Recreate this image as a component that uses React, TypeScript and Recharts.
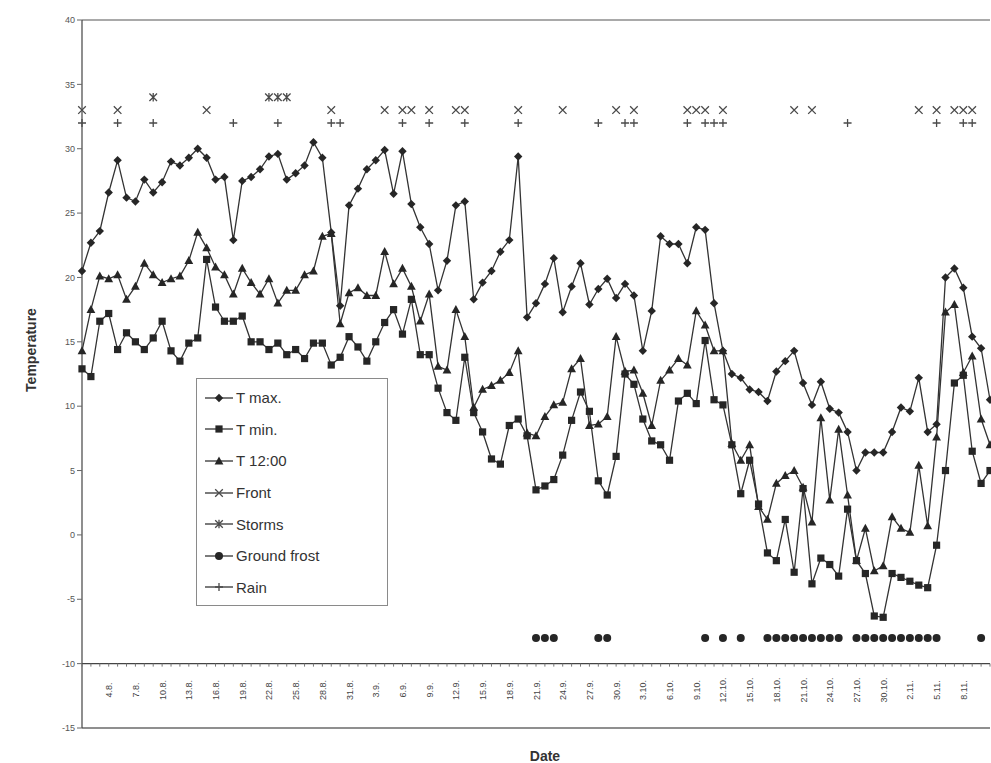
import React from "react";
import { LineChart, Line, XAxis, YAxis, ReferenceLine, Legend } from "recharts";

const dates = [
  "1.8.", "2.8.", "3.8.", "4.8.", "5.8.", "6.8.", "7.8.", "8.8.", "9.8.", "10.8.",
  "11.8.", "12.8.", "13.8.", "14.8.", "15.8.", "16.8.", "17.8.", "18.8.", "19.8.", "20.8.",
  "21.8.", "22.8.", "23.8.", "24.8.", "25.8.", "26.8.", "27.8.", "28.8.", "29.8.", "30.8.",
  "31.8.", "1.9.", "2.9.", "3.9.", "4.9.", "5.9.", "6.9.", "7.9.", "8.9.", "9.9.",
  "10.9.", "11.9.", "12.9.", "13.9.", "14.9.", "15.9.", "16.9.", "17.9.", "18.9.", "19.9.",
  "20.9.", "21.9.", "22.9.", "23.9.", "24.9.", "25.9.", "26.9.", "27.9.", "28.9.", "29.9.",
  "30.9.", "1.10.", "2.10.", "3.10.", "4.10.", "5.10.", "6.10.", "7.10.", "8.10.", "9.10.",
  "10.10.", "11.10.", "12.10.", "13.10.", "14.10.", "15.10.", "16.10.", "17.10.", "18.10.", "19.10.",
  "20.10.", "21.10.", "22.10.", "23.10.", "24.10.", "25.10.", "26.10.", "27.10.", "28.10.", "29.10.",
  "30.10.", "31.10.", "1.11.", "2.11.", "3.11.", "4.11.", "5.11.", "6.11.", "7.11.", "8.11.",
  "9.11.", "10.11.", "11.11.",
];

const tMax = [
  20.5, 22.7, 23.6, 26.6, 29.1, 26.2, 25.9, 27.6, 26.6, 27.4,
  29.0, 28.7, 29.3, 30.0, 29.3, 27.6, 27.8, 22.9, 27.5, 27.8,
  28.4, 29.4, 29.6, 27.6, 28.1, 28.7, 30.5, 29.3, 23.5, 17.8,
  25.6, 26.9, 28.4, 29.1, 29.9, 26.5, 29.8, 25.7, 23.9, 22.6,
  19.0, 21.3, 25.6, 25.9, 18.3, 19.6, 20.5, 22.0, 22.9, 29.4,
  16.9, 18.0, 19.5, 21.5, 17.3, 19.3, 21.1, 17.9, 19.1, 19.9,
  18.4, 19.5, 18.6, 14.3, 17.4, 23.2, 22.6, 22.6, 21.1, 23.9,
  23.7, 18.0, 14.3, 12.5, 12.2, 11.3, 11.1, 10.4, 12.7, 13.5,
  14.3, 11.8, 10.1, 11.9, 9.8, 9.5, 8.0, 5.0, 6.4, 6.4,
  6.4, 8.0, 9.9, 9.6, 12.2, 8.0, 8.6, 20.0, 20.7, 19.2,
  15.4, 14.5, 10.5,
];

const tMin = [
  12.9, 12.3, 16.6, 17.2, 14.4, 15.7, 15.0, 14.4, 15.3, 16.6,
  14.3, 13.5, 14.9, 15.3, 21.4, 17.7, 16.6, 16.6, 17.0, 15.0,
  15.0, 14.4, 14.9, 14.0, 14.4, 13.7, 14.9, 14.9, 13.2, 13.8,
  15.4, 14.6, 13.5, 15.0, 16.5, 17.5, 15.6, 18.3, 14.0, 14.0,
  11.4, 9.5, 8.9, 13.8, 9.5, 8.0, 5.9, 5.5, 8.5, 9.0,
  7.7, 3.5, 3.8, 4.3, 6.2, 8.9, 11.1, 9.6, 4.2, 3.1,
  6.1, 12.5, 11.7, 9.0, 7.3, 7.0, 5.8, 10.4, 11.0, 10.2,
  15.1, 10.5, 10.1, 7.0, 3.2, 5.8, 2.4, -1.4, -2.0, 1.2,
  -2.9, 3.6, -3.8, -1.8, -2.3, -3.2, 2.0, -2.0, -3.0, -6.3,
  -6.4, -3.0, -3.3, -3.6, -3.9, -4.1, -0.8, 5.0, 11.8, 12.4,
  6.5, 4.0, 5.0,
];

const t1200 = [
  14.3, 17.5, 20.1, 19.9, 20.2, 18.3, 19.3, 21.1, 20.2, 19.6,
  19.9, 20.1, 21.3, 23.5, 22.3, 20.8, 20.2, 18.7, 20.7, 19.6,
  18.7, 19.9, 18.0, 19.0, 19.0, 20.2, 20.5, 23.2, 23.4, 16.4,
  18.8, 19.2, 18.6, 18.6, 22.0, 19.5, 20.7, 19.3, 16.6, 18.7,
  13.1, 12.8, 17.5, 15.4, 9.9, 11.3, 11.6, 12.0, 12.6, 14.3,
  7.9, 7.7, 9.2, 10.1, 10.3, 12.9, 13.7, 8.5, 8.6, 9.2,
  15.4, 12.7, 12.8, 11.0, 8.5, 12.0, 12.8, 13.7, 13.2, 17.4,
  16.3, 14.3, 14.3, 7.1, 5.8, 7.0, 2.2, 1.2, 4.0, 4.6,
  5.0, 3.7, 1.0, 9.1, 2.7, 8.2, 3.1, -2.0, 0.5, -2.8,
  -2.4, 1.4, 0.5, 0.2, 5.4, 0.7, 7.6, 17.3, 17.9, 12.6,
  13.9, 9.0, 7.0,
];

// event days, drawn as markers at fixed heights
const frontDates = [
  "1.8.", "5.8.", "15.8.", "29.8.", "4.9.", "6.9.", "7.9.", "9.9.", "12.9.", "13.9.",
  "19.9.", "24.9.", "30.9.", "2.10.", "8.10.", "9.10.", "10.10.", "12.10.", "20.10.", "22.10.",
  "3.11.", "5.11.", "7.11.", "8.11.", "9.11.",
];
const stormDates = ["9.8.", "22.8.", "23.8.", "24.8."];
const rainDates = [
  "1.8.", "5.8.", "9.8.", "18.8.", "23.8.", "29.8.", "30.8.", "6.9.", "9.9.", "13.9.",
  "19.9.", "28.9.", "1.10.", "2.10.", "8.10.", "10.10.", "11.10.", "12.10.", "26.10.", "5.11.",
  "8.11.", "9.11.",
];
const frostDates = [
  "21.9.", "22.9.", "23.9.", "28.9.", "29.9.", "10.10.", "12.10.", "14.10.",
  "17.10.", "18.10.", "19.10.", "20.10.", "21.10.", "22.10.", "23.10.", "24.10.", "25.10.",
  "27.10.", "28.10.", "29.10.", "30.10.", "31.10.", "1.11.", "2.11.", "3.11.", "4.11.", "5.11.",
  "10.11.",
];

const FRONT_LEVEL = 33;
const STORM_LEVEL = 34;
const RAIN_LEVEL = 32;
const FROST_LEVEL = -8;

const labelDates = [
  "4.8.", "7.8.", "10.8.", "13.8.", "16.8.", "19.8.", "22.8.", "25.8.", "28.8.", "31.8.",
  "3.9.", "6.9.", "9.9.", "12.9.", "15.9.", "18.9.", "21.9.", "24.9.", "27.9.", "30.9.",
  "3.10.", "6.10.", "9.10.", "12.10.", "15.10.", "18.10.", "21.10.", "24.10.", "27.10.", "30.10.",
  "2.11.", "5.11.", "8.11.",
];
const yTicks = [-15, -10, -5, 0, 5, 10, 15, 20, 25, 30, 35, 40];

const FONT = "'Liberation Sans', Arial, sans-serif";
const INK = "#262626";
const PLOT_TOP = 20;
const PLOT_BOTTOM = 728;

function valueToY(v: number) {
  return PLOT_BOTTOM - ((v + 15) / 55) * (PLOT_BOTTOM - PLOT_TOP);
}

const chartData = dates.map((d, i) => ({
  date: d,
  tmax: tMax[i],
  tmin: tMin[i],
  t12: t1200[i],
  front: frontDates.includes(d) ? FRONT_LEVEL : null,
  storm: stormDates.includes(d) ? STORM_LEVEL : null,
  rain: rainDates.includes(d) ? RAIN_LEVEL : null,
  frost: frostDates.includes(d) ? FROST_LEVEL : null,
}));

type Shape = "diamond" | "square" | "triangle" | "cross" | "star" | "circle" | "plus";

function Marker({ shape, cx, cy }: { shape: Shape; cx: number; cy: number }) {
  switch (shape) {
    case "diamond":
      return <path d={`M${cx},${cy - 4.2}L${cx + 4.2},${cy}L${cx},${cy + 4.2}L${cx - 4.2},${cy}Z`} fill={INK} />;
    case "square":
      return <rect x={cx - 3.6} y={cy - 3.6} width={7.2} height={7.2} fill={INK} />;
    case "triangle":
      return <path d={`M${cx},${cy - 4.6}L${cx + 4.4},${cy + 3.4}L${cx - 4.4},${cy + 3.4}Z`} fill={INK} />;
    case "cross":
      return (
        <path d={`M${cx - 3.8},${cy - 3.8}L${cx + 3.8},${cy + 3.8}M${cx + 3.8},${cy - 3.8}L${cx - 3.8},${cy + 3.8}`}
          stroke="#4a4a4a" strokeWidth={1.3} fill="none" />
      );
    case "star":
      return (
        <path d={`M${cx - 3.8},${cy - 3.8}L${cx + 3.8},${cy + 3.8}M${cx + 3.8},${cy - 3.8}L${cx - 3.8},${cy + 3.8}M${cx},${cy - 4.2}L${cx},${cy + 4.2}`}
          stroke="#4a4a4a" strokeWidth={1.3} fill="none" />
      );
    case "plus":
      return (
        <path d={`M${cx - 4},${cy}L${cx + 4},${cy}M${cx},${cy - 4}L${cx},${cy + 4}`}
          stroke="#4a4a4a" strokeWidth={1.3} fill="none" />
      );
    case "circle":
      return <circle cx={cx} cy={cy} r={4} fill={INK} />;
  }
  return null;
}

function makeDot(shape: Shape) {
  return (props: any) => {
    const { cx, cy, value, index } = props;
    if (cx == null || cy == null || value == null) return <g key={index} />;
    return <Marker key={index} shape={shape} cx={cx} cy={cy} />;
  };
}

function DateTick(props: any) {
  const { x, payload } = props;
  const axisY = valueToY(-10);
  const show = labelDates.includes(payload.value);
  return (
    <g>
      <line x1={x} x2={x} y1={axisY} y2={axisY + 3} stroke="#777" strokeWidth={1} />
      {show && (
        <text
          transform={`translate(${x + 3.5},${690}) rotate(-90)`}
          textAnchor="middle"
          fontSize={9}
          fill="#444"
          fontFamily={FONT}
        >
          {payload.value}
        </text>
      )}
    </g>
  );
}

const legendItems: { name: string; shape: Shape }[] = [
  { name: "T max.", shape: "diamond" },
  { name: "T min.", shape: "square" },
  { name: "T 12:00", shape: "triangle" },
  { name: "Front", shape: "cross" },
  { name: "Storms", shape: "star" },
  { name: "Ground frost", shape: "circle" },
  { name: "Rain", shape: "plus" },
];

function LegendBox() {
  return (
    <div
      style={{
        width: 192,
        height: 228,
        boxSizing: "border-box",
        border: "1px solid #8a8a8a",
        background: "#fff",
        padding: "3px 0 0 7px",
        fontFamily: FONT,
        fontSize: 15,
        color: "#333",
        textAlign: "left",
      }}
    >
      {legendItems.map((it) => (
        <div key={it.name} style={{ display: "flex", alignItems: "center", height: 31.6 }}>
          <svg width={30} height={14} style={{ marginRight: 2 }}>
            <line x1={1} x2={29} y1={7} y2={7} stroke="#333" strokeWidth={1.3} />
            <Marker shape={it.shape} cx={15} cy={7} />
          </svg>
          <span>{it.name}</span>
        </div>
      ))}
    </div>
  );
}

export default function App() {
  return (
    <div style={{ position: "absolute", left: 0, top: 0, width: 991, height: 763, overflow: "hidden", background: "#fff" }}>
      <LineChart
        width={991}
        height={763}
        data={chartData}
        margin={{ top: PLOT_TOP, right: 1, bottom: 0, left: 0 }}
      >
        <XAxis
          dataKey="date"
          interval={0}
          height={763 - PLOT_BOTTOM}
          tick={<DateTick />}
          tickLine={false}
          axisLine={{ stroke: "#6a6a6a", strokeWidth: 1.6 }}
          label={{
            content: () => (
              <text x={545} y={761} textAnchor="middle" fontFamily={FONT} fontWeight="bold" fontSize={14} fill="#333">
                Date
              </text>
            ),
          }}
        />
        <YAxis
          domain={[-15, 40]}
          ticks={yTicks}
          width={82}
          tick={{ fontSize: 9, fill: "#555", fontFamily: FONT }}
          tickLine={{ stroke: "#666" }}
          tickSize={5}
          axisLine={{ stroke: "#444", strokeWidth: 1.2 }}
          label={{
            content: () => (
              <text
                transform="translate(36,350) rotate(-90)"
                textAnchor="middle"
                fontFamily={FONT}
                fontWeight="bold"
                fontSize={14}
                fill="#333"
              >
                Temperature
              </text>
            ),
          }}
        />
        <ReferenceLine y={40} stroke="#555" strokeWidth={1.2} />
        <ReferenceLine y={-10} stroke="#444" strokeWidth={1.2} />
        <Legend
          layout="vertical"
          verticalAlign="middle"
          align="center"
          wrapperStyle={{ left: 196, top: 378, width: 192, height: 228 }}
          content={() => <LegendBox />}
        />
        <Line dataKey="tmax" stroke="#333" strokeWidth={1.3} dot={makeDot("diamond")} isAnimationActive={false} />
        <Line dataKey="tmin" stroke="#333" strokeWidth={1.3} dot={makeDot("square")} isAnimationActive={false} />
        <Line dataKey="t12" stroke="#333" strokeWidth={1.3} dot={makeDot("triangle")} isAnimationActive={false} />
        <Line dataKey="front" stroke="none" dot={makeDot("cross")} isAnimationActive={false} />
        <Line dataKey="storm" stroke="none" dot={makeDot("star")} isAnimationActive={false} />
        <Line dataKey="rain" stroke="none" dot={makeDot("plus")} isAnimationActive={false} />
        <Line dataKey="frost" stroke="none" dot={makeDot("circle")} isAnimationActive={false} />
      </LineChart>
    </div>
  );
}
